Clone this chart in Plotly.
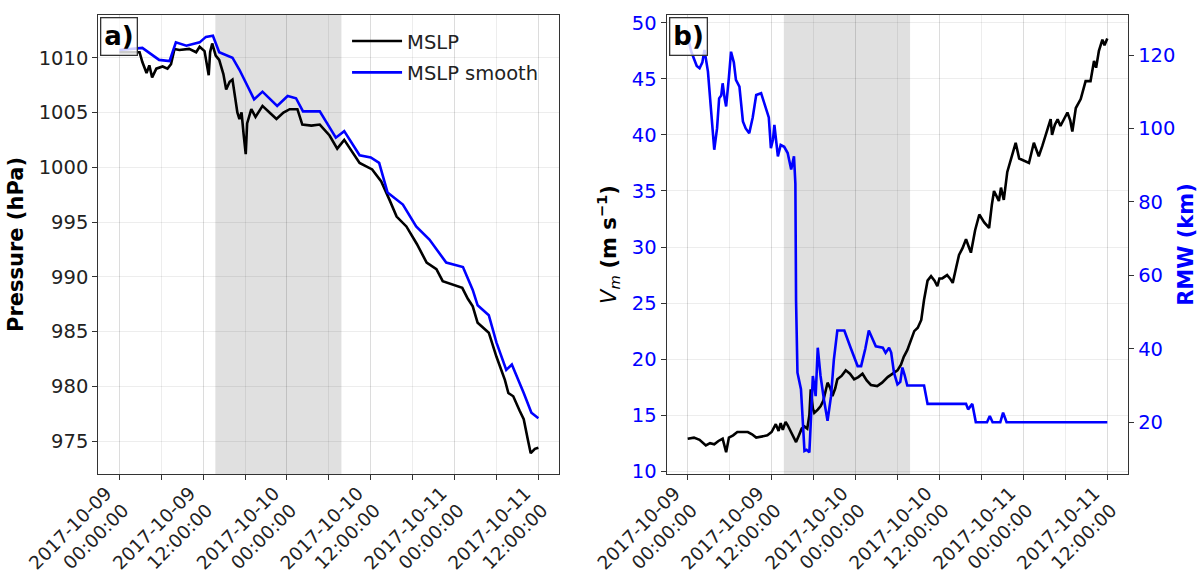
import pandas as pd
import plotly.graph_objects as go

# ---------------- data ----------------
T0 = pd.Timestamp("2017-10-09 00:00:00")

# panel a: MSLP (hPa) vs hours since 2017-10-09 00:00
mslp_hours = [0, 2.9, 3.3, 3.9, 4.3, 4.7, 5.3, 6.2, 6.9, 7.4, 7.9, 8.6, 10.0, 11.0, 11.5, 12.2,
              12.8, 13.0, 13.3, 13.8, 14.3, 14.9, 15.3, 15.8, 16.2, 16.6, 16.9, 17.2, 17.5, 17.8,
              18.1, 18.3, 18.9, 19.5, 20.5, 21.5, 22.5, 23.5, 24.4, 25.5, 26.2, 27.5, 28.7, 30.1,
              31.2, 32.2, 33.2, 34.4, 36.2, 37.5, 38.7, 39.7, 41.1, 42.6, 44.0, 45.4, 46.3, 47.3,
              48.3, 49.1, 49.9, 50.6, 51.3, 52.9, 54.0, 55.2, 55.7, 56.4, 57.3, 57.9, 58.5, 58.9,
              59.5, 60.0]
mslp = [1010.5, 1010.5, 1009.6, 1008.6, 1009.3, 1008.2, 1009.0, 1009.2, 1009.0, 1009.4, 1010.8,
        1010.7, 1010.8, 1010.5, 1011.0, 1010.6, 1008.4, 1010.5, 1011.3, 1010.2, 1009.8, 1008.5,
        1007.1, 1007.8, 1008.0, 1006.5, 1005.0, 1004.4, 1005.0, 1003.0, 1001.2, 1004.0, 1005.3,
        1004.6, 1005.6, 1005.0, 1004.4, 1005.0, 1005.3, 1005.3, 1003.9, 1003.8, 1003.9, 1002.9,
        1001.7, 1002.5, 1001.5, 1000.4, 999.8, 998.7, 997.0, 995.5, 994.6, 993.0, 991.3, 990.7,
        989.6, 989.4, 989.2, 989.0, 988.0, 987.3, 985.8, 984.9, 982.7, 980.6, 979.4, 979.1,
        977.8, 977.0, 975.1, 973.9, 974.3, 974.4]

smooth_hours = [0, 3.3, 5.7, 7.2, 8.1, 9.6, 11.5, 12.4, 13.4, 14.3, 16.2, 17.2, 19.3, 20.5, 22.6,
                24.1, 25.3, 26.3, 28.7, 31.0, 32.2, 34.4, 36.0, 37.2, 38.4, 39.6, 40.6, 42.5,
                44.4, 46.8, 48.2, 49.2, 50.6, 51.3, 52.9, 54.0, 55.4, 56.2, 57.9, 59.0, 60.0]
mslp_smooth = [1010.7, 1010.9, 1009.8, 1009.7, 1011.4, 1011.1, 1011.4, 1011.9, 1012.0, 1010.5,
               1010.0, 1008.9, 1006.2, 1006.9, 1005.6, 1006.5, 1006.3, 1005.1, 1005.1, 1002.7,
               1003.3, 1001.1, 1000.9, 1000.4, 997.7, 997.1, 996.6, 994.6, 993.4, 991.3, 991.1,
               990.9, 988.8, 987.4, 986.5, 984.0, 981.5, 982.0, 979.4, 977.6, 977.1]

# panel b: Vm (m/s) and RMW (km)
vm_hours = [0, 0.9, 1.7, 2.6, 3.2, 3.8, 4.4, 5.0, 5.5, 5.9, 6.5, 7.1, 8.6, 9.2, 9.8, 10.6, 11.4,
            12.0, 12.6, 13.0, 13.3, 13.6, 14.0, 14.3, 14.8, 15.2, 15.5, 15.9, 16.3, 16.7, 17.1,
            17.4, 17.6, 17.9, 18.1, 18.6, 19.0, 19.4, 20.0, 20.4, 20.7, 21.1, 21.4, 22.0, 22.6,
            23.2, 23.8, 24.4, 25.0, 25.6, 26.2, 27.1, 27.8, 28.6, 29.3, 30.0, 30.5, 30.9, 31.4,
            31.9, 32.4, 32.9, 33.4, 33.8, 34.3, 34.8, 35.3, 35.7, 36.0, 36.4, 37.1, 37.5, 37.9,
            38.4, 38.8, 39.3, 39.8, 40.2, 40.5, 41.1, 41.7, 42.4, 43.1, 43.5, 43.8, 44.2, 44.5,
            44.8, 45.2, 45.7, 46.3, 46.9, 47.4, 48.1, 48.8, 49.5, 50.2, 50.7, 51.2, 51.9, 52.1,
            52.5, 52.9, 53.3, 53.8, 54.3, 54.7, 55.0, 55.5, 56.2, 56.9, 57.6, 58.1, 58.4, 58.8,
            59.3, 59.6, 60.0]
vm = [12.9, 13.0, 12.8, 12.3, 12.5, 12.4, 12.7, 12.9, 11.7, 13.0, 13.2, 13.5, 13.5, 13.3, 13.0,
      13.1, 13.2, 13.5, 14.2, 13.6, 14.3, 13.7, 14.4, 14.1, 13.5, 13.0, 12.6, 13.2, 13.8, 14.0,
      13.8, 15.0, 17.3, 15.6, 15.2, 15.5, 15.8, 16.3, 17.9, 17.4, 16.7, 17.4, 18.2, 18.5, 19.0,
      18.7, 18.2, 18.4, 18.7, 18.1, 17.7, 17.6, 17.9, 18.4, 18.7, 19.0, 19.5, 20.2, 20.8, 21.7,
      22.5, 22.8, 23.5, 25.3, 27.0, 27.4, 27.0, 26.5, 27.2, 27.2, 27.5, 27.2, 26.8, 28.2, 29.3,
      29.9, 30.7, 30.0, 29.5, 31.5, 32.9, 32.2, 31.7, 33.8, 35.0, 34.5, 34.1, 35.3, 34.2, 36.7,
      38.0, 39.3, 37.9, 37.7, 37.5, 39.3, 38.1, 39.0, 40.0, 41.4, 40.0, 40.9, 41.4, 40.8, 41.4,
      42.0, 41.3, 40.3, 42.4, 43.2, 44.8, 44.8, 46.6, 46.0, 47.5, 48.5, 48.0, 48.6]

rmw_hours = [0, 0.5, 0.9, 1.3, 1.7, 2.1, 2.4, 2.9, 3.3, 3.8, 4.2, 4.5, 4.8, 5.0, 5.3, 5.5, 5.9,
             6.2, 6.6, 6.9, 7.4, 7.9, 8.3, 8.8, 9.3, 9.8, 10.5, 10.9, 11.2, 11.6, 11.9, 12.2,
             12.4, 12.7, 12.9, 13.3, 13.8, 14.3, 14.8, 15.2, 15.4, 15.5, 15.6, 15.7, 16.2, 16.5,
             16.7, 17.0, 17.4, 17.6, 17.9, 18.1, 18.3, 18.6, 19.0, 19.5, 20.0, 20.5, 20.9, 21.4,
             22.4, 23.3, 24.3, 24.8, 25.4, 25.9, 26.4, 26.9, 27.9, 28.3, 28.8, 29.1, 29.5, 30.0,
             30.4, 30.7, 31.0, 31.4, 33.8, 34.3, 39.8, 40.1, 40.7, 41.2, 42.8, 43.2, 43.6, 44.7,
             45.1, 45.6, 60.0]
rmw = [125, 121, 119, 117, 116.4, 118, 121.4, 115.5, 106, 94.2, 100, 108.2, 109, 112.3, 108, 106,
       114, 120.9, 118, 113.2, 111.4, 101.9, 100, 98.7, 103, 109.1, 109.6, 107, 105, 103, 94.6,
       97, 101, 95, 92.4, 95.5, 95, 93.3, 88.8, 92.4, 85, 53, 40, 33.5, 29, 20, 12.2, 12.5, 11.8,
       19.9, 32.6, 30, 27.1, 40.3, 32.6, 26, 20.4, 27.1, 37, 45, 45, 40.3, 35.3, 35.3, 40, 45, 43,
       40.7, 40.3, 38.9, 40.3, 39, 33.5, 30.3, 31, 34.9, 33, 30, 30, 25, 25, 23.5, 25, 20, 20,
       21.7, 20, 20, 22.6, 20, 20]

shade_hours = [13.75, 31.8]
label_hours = [0, 12, 24, 36, 48, 60]
tick_labels = ["2017-10-09<br>00:00:00", "2017-10-09<br>12:00:00", "2017-10-10<br>00:00:00",
               "2017-10-10<br>12:00:00", "2017-10-11<br>00:00:00", "2017-10-11<br>12:00:00"]
minor_step_hours = 6
p_ticks = [975, 980, 985, 990, 995, 1000, 1005, 1010]
vm_ticks = [10, 15, 20, 25, 30, 35, 40, 45, 50]
rmw_ticks = [20, 40, 60, 80, 100, 120]


def to_time(hours):
    return [T0 + pd.Timedelta(hours=h) for h in hours]


# ---------------- figure ----------------
FONT = "DejaVu Sans"
GRID = "rgba(0,0,0,0.07)"
AX = "#333333"
LW = 2.6
TICK_FS = 19.5
XTICK_FS = 18.5
TITLE_FS = 21

fig = go.Figure()
fig.add_trace(go.Scatter(x=to_time(mslp_hours), y=mslp, mode="lines", name="MSLP",
                         legendgroup="g1",
                         line=dict(color="black", width=LW), xaxis="x", yaxis="y"))
fig.add_trace(go.Scatter(x=to_time(smooth_hours), y=mslp_smooth, mode="lines", name="MSLP smooth",
                         legendgroup="g2",
                         line=dict(color="blue", width=LW), xaxis="x", yaxis="y"))
fig.add_trace(go.Scatter(x=to_time(vm_hours), y=vm, mode="lines", name="Vm", showlegend=False,
                         line=dict(color="black", width=LW), xaxis="x2", yaxis="y2"))
fig.add_trace(go.Scatter(x=to_time(rmw_hours), y=rmw, mode="lines", name="RMW", showlegend=False,
                         line=dict(color="blue", width=LW), xaxis="x2", yaxis="y3"))

for xr, yr in [("x", "y domain"), ("x2", "y2 domain")]:
    fig.add_shape(type="rect", xref=xr, yref=yr,
                  x0=to_time([shade_hours[0]])[0], x1=to_time([shade_hours[1]])[0], y0=0, y1=1,
                  fillcolor="#e0e0e0", line=dict(width=0), layer="below")

common_x = dict(range=to_time([-3, 63]), tickmode="array", tickvals=to_time(label_hours),
                ticktext=tick_labels, tickangle=-45, ticks="outside", ticklen=5, tickcolor=AX,
                showline=True, linecolor=AX, linewidth=1.3, mirror=True, showgrid=True,
                gridcolor=GRID, gridwidth=1, zeroline=False, automargin=False,
                ticklabelstandoff=-5, ticklabelshift=-13,
                tickfont=dict(family=FONT, size=XTICK_FS, color="#222"),
                minor=dict(tick0=T0, dtick=minor_step_hours * 3600 * 1000, ticks="outside",
                           ticklen=5, tickcolor=AX, showgrid=True, gridcolor=GRID))

ycommon = dict(ticks="outside", ticklen=5, tickcolor=AX, zeroline=False, automargin=False)

fig.update_layout(
    width=1198, height=576, margin=dict(l=0, r=0, t=0, b=0),
    paper_bgcolor="white", plot_bgcolor="white",
    font=dict(family=FONT, size=TICK_FS, color="#222"),
    xaxis=dict(domain=[0.0821, 0.4669], anchor="y", **common_x),
    xaxis2=dict(domain=[0.5565, 0.9418], anchor="y2", **common_x),
    yaxis=dict(domain=[0.177, 0.974], anchor="x", range=[972.0, 1013.9], tickvals=p_ticks,
               showline=True, linecolor=AX, linewidth=1.3, mirror=True, showgrid=True,
               gridcolor=GRID, tickfont=dict(family=FONT, size=TICK_FS, color="#222"),
               title=dict(text="<b>Pressure (hPa)</b>",
                          font=dict(family=FONT, size=TITLE_FS, color="black"), standoff=9),
               **ycommon),
    yaxis2=dict(domain=[0.177, 0.974], anchor="x2", range=[9.75, 50.7], tickvals=vm_ticks,
                showline=True, linecolor=AX, linewidth=1.3, mirror=True, showgrid=True,
                gridcolor=GRID, tickfont=dict(family=FONT, size=TICK_FS, color="blue"),
                title=dict(text="<i>V<sub>m</sub></i> <b>(m s<sup>−1</sup>)</b>",
                           font=dict(family=FONT, size=TITLE_FS, color="black"), standoff=9),
                **ycommon),
    yaxis3=dict(overlaying="y2", anchor="x2", side="right", range=[5.9, 130.9], tickvals=rmw_ticks,
                showline=False, showgrid=False,
                tickfont=dict(family=FONT, size=TICK_FS, color="blue"),
                title=dict(text="<b>RMW (km)</b>",
                           font=dict(family=FONT, size=TITLE_FS, color="blue"), standoff=9),
                **ycommon),
    legend=dict(x=0.2897, y=0.962, xanchor="left", yanchor="top", bgcolor="rgba(0,0,0,0)",
                borderwidth=0, font=dict(family=FONT, size=TICK_FS, color="#222"),
                tracegroupgap=3, itemwidth=50),
)

for xd, yd, label in [("x domain", "y domain", "a)"), ("x2 domain", "y2 domain", "b)")]:
    fig.add_annotation(xref=xd, yref=yd, x=0.004, y=0.995, xanchor="left", yanchor="top",
                       text=f"<b>{label}</b>", showarrow=False,
                       font=dict(family=FONT, size=26, color="black"),
                       bgcolor="rgba(255,255,255,0.8)", bordercolor="#333", borderwidth=1.3,
                       borderpad=3)

fig.write_html("out.html")
